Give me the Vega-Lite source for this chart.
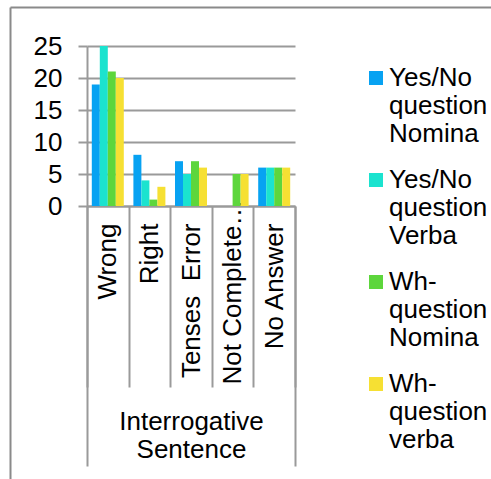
{
  "$schema": "https://vega.github.io/schema/vega-lite/v6.json",
  "width": 208,
  "height": 160,
  "autosize": "none",
  "padding": {"left": 87, "top": 46, "right": 196, "bottom": 273},
  "background": "white",
  "config": {
    "font": "Liberation Sans",
    "view": {"stroke": null}
  },
  "data": {
    "values": [
      {"category": "Wrong", "series": "Yes/No question Nomina", "value": 19, "group": "Interrogative Sentence"},
      {"category": "Wrong", "series": "Yes/No question Verba", "value": 25, "group": "Interrogative Sentence"},
      {"category": "Wrong", "series": "Wh- question Nomina", "value": 21, "group": "Interrogative Sentence"},
      {"category": "Wrong", "series": "Wh- question verba", "value": 20, "group": "Interrogative Sentence"},
      {"category": "Right", "series": "Yes/No question Nomina", "value": 8, "group": "Interrogative Sentence"},
      {"category": "Right", "series": "Yes/No question Verba", "value": 4, "group": "Interrogative Sentence"},
      {"category": "Right", "series": "Wh- question Nomina", "value": 1, "group": "Interrogative Sentence"},
      {"category": "Right", "series": "Wh- question verba", "value": 3, "group": "Interrogative Sentence"},
      {"category": "Tenses\u00a0\u00a0Error", "series": "Yes/No question Nomina", "value": 7, "group": "Interrogative Sentence"},
      {"category": "Tenses\u00a0\u00a0Error", "series": "Yes/No question Verba", "value": 5, "group": "Interrogative Sentence"},
      {"category": "Tenses\u00a0\u00a0Error", "series": "Wh- question Nomina", "value": 7, "group": "Interrogative Sentence"},
      {"category": "Tenses\u00a0\u00a0Error", "series": "Wh- question verba", "value": 6, "group": "Interrogative Sentence"},
      {"category": "Not Complete Answer", "series": "Yes/No question Nomina", "value": 0, "group": "Interrogative Sentence"},
      {"category": "Not Complete Answer", "series": "Yes/No question Verba", "value": 0, "group": "Interrogative Sentence"},
      {"category": "Not Complete Answer", "series": "Wh- question Nomina", "value": 5, "group": "Interrogative Sentence"},
      {"category": "Not Complete Answer", "series": "Wh- question verba", "value": 5, "group": "Interrogative Sentence"},
      {"category": "No Answer", "series": "Yes/No question Nomina", "value": 6, "group": "Interrogative Sentence"},
      {"category": "No Answer", "series": "Yes/No question Verba", "value": 6, "group": "Interrogative Sentence"},
      {"category": "No Answer", "series": "Wh- question Nomina", "value": 6, "group": "Interrogative Sentence"},
      {"category": "No Answer", "series": "Wh- question verba", "value": 6, "group": "Interrogative Sentence"}
    ]
  },
  "layer": [
    {
      "mark": {"type": "bar"},
      "encoding": {
        "x": {
          "field": "category",
          "type": "nominal",
          "sort": ["Wrong", "Right", "Tenses\u00a0\u00a0Error", "Not Complete Answer", "No Answer"],
          "scale": {"paddingInner": 0, "paddingOuter": 0},
          "axis": {
            "title": null,
            "orient": "bottom",
            "labelAngle": -90,
            "labelFontSize": 26,
            "labelColor": "#000000",
            "labelLimit": 188,
            "tickBand": "extent",
            "tickSize": 181,
            "tickColor": "#9a9a9a",
            "tickWidth": 2,
            "domainColor": "#9a9a9a",
            "domainWidth": 2,
            "labelPadding": {"condition": {"test": "datum.value === 'Not Complete Answer'", "value": -188}, "value": -164},
            "grid": false
          }
        },
        "xOffset": {
          "field": "series",
          "type": "nominal",
          "sort": ["Yes/No question Nomina", "Yes/No question Verba", "Wh- question Nomina", "Wh- question verba"],
          "scale": {"paddingInner": 0, "paddingOuter": 0.6}
        },
        "y": {
          "field": "value",
          "type": "quantitative",
          "scale": {"domain": [0, 25]},
          "axis": {
            "title": null,
            "orient": "left",
            "values": [0, 5, 10, 15, 20, 25],
            "grid": true,
            "gridColor": "#9a9a9a",
            "gridWidth": 2,
            "domainColor": "#9a9a9a",
            "domainWidth": 2,
            "tickColor": "#9a9a9a",
            "tickWidth": 2,
            "tickSize": 9,
            "labelPadding": 16,
            "labelFontSize": 26,
            "labelColor": "#000000"
          }
        },
        "color": {
          "field": "series",
          "type": "nominal",
          "sort": ["Yes/No question Nomina", "Yes/No question Verba", "Wh- question Nomina", "Wh- question verba"],
          "scale": {
            "domain": ["Yes/No question Nomina", "Yes/No question Verba", "Wh- question Nomina", "Wh- question verba"],
            "range": ["#07a2f2", "#1be3cf", "#5dd63c", "#f6e033"]
          },
          "legend": {
            "orient": "none",
            "legendX": 276,
            "legendY": 19,
            "title": null,
            "labelExpr": "split(datum.label, ' ')",
            "labelFontSize": 26,
            "labelColor": "#000000",
            "labelBaseline": "middle",
            "labelLimit": 200,
            "labelOffset": 0,
            "symbolType": "square",
            "symbolSize": 196,
            "symbolStrokeWidth": 0,
            "symbolOpacity": 1,
            "rowPadding": 20,
            "padding": 0
          }
        }
      }
    },
    {
      "mark": {"type": "bar", "opacity": 0},
      "encoding": {
        "x": {
          "field": "group",
          "type": "nominal",
          "scale": {"paddingInner": 0, "paddingOuter": 0},
          "axis": {
            "title": null,
            "orient": "bottom",
            "domain": false,
            "labelAngle": 0,
            "labelAlign": "center",
            "labelBaseline": "top",
            "labelExpr": "split(datum.label, ' ')",
            "labelFontSize": 26,
            "labelLineHeight": 28,
            "labelColor": "#000000",
            "labelLimit": 300,
            "tickBand": "extent",
            "tickSize": 260,
            "tickColor": "#9a9a9a",
            "tickWidth": 2,
            "labelPadding": -58,
            "grid": false
          }
        }
      }
    },
    {
      "mark": {"type": "bar", "opacity": 0},
      "encoding": {
        "x": {
          "field": "group",
          "type": "nominal",
          "scale": {"paddingInner": 0, "paddingOuter": 0, "range": [-77, 404]},
          "axis": {
            "title": null,
            "orient": "top",
            "offset": 39,
            "domain": true,
            "domainColor": "#8a8a8a",
            "domainWidth": 2,
            "ticks": false,
            "labels": false,
            "grid": false
          }
        },
        "y": {
          "field": "value",
          "type": "quantitative",
          "scale": {"domain": [0, 25], "range": [433, -39]},
          "axis": {
            "title": null,
            "orient": "left",
            "offset": 77,
            "domain": true,
            "domainColor": "#8a8a8a",
            "domainWidth": 2,
            "ticks": false,
            "labels": false,
            "grid": false
          }
        }
      }
    }
  ],
  "resolve": {
    "scale": {"x": "independent", "y": "independent"},
    "axis": {"x": "independent", "y": "independent"}
  }
}
